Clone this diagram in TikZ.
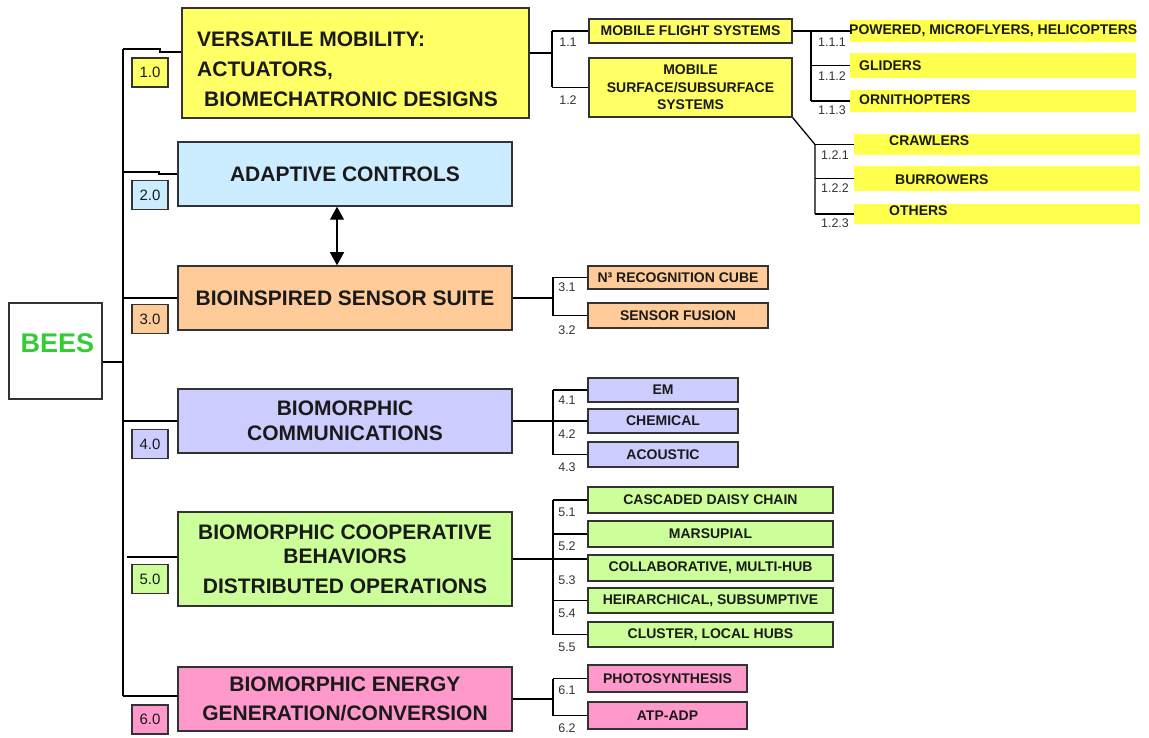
\documentclass[tikz,border=0pt]{standalone}
\usepackage{fontspec}
\setmainfont{Liberation Sans}
\usetikzlibrary{arrows.meta}
\definecolor{cyellow}{HTML}{FFFF66}
\definecolor{baryellow}{HTML}{FFFF4D}
\definecolor{cblue}{HTML}{CCECFF}
\definecolor{corange}{HTML}{FFCC99}
\definecolor{clav}{HTML}{CCCCFF}
\definecolor{cgreen}{HTML}{CCFF99}
\definecolor{cpink}{HTML}{FF99CC}
\definecolor{beesgreen}{HTML}{33CC33}
\definecolor{edge}{HTML}{333333}
\definecolor{ink}{HTML}{1A1A1A}
\definecolor{numink}{HTML}{333333}
\begin{document}
\begin{tikzpicture}[x=1pt,y=-1pt,
  mainbox/.style={draw=edge, line width=1.5pt, inner sep=0pt, align=center,
    text=ink, font=\bfseries\fontsize{21}{29}\selectfont},
  boxtext/.style={inner sep=0pt, text=ink, font=\bfseries\fontsize{21}{30}\selectfont},
  subbox/.style={draw=edge, line width=1.3pt, inner sep=0pt, align=center,
    text=ink, font=\bfseries\fontsize{14}{17.5}\selectfont},
  bar/.style={fill=baryellow, inner sep=0pt, minimum width=286},
  bartext/.style={anchor=west, inner sep=0pt, text=ink, font=\bfseries\fontsize{14}{17}\selectfont},
  num/.style={inner sep=0pt, text=numink, font=\fontsize{12.5}{14}\selectfont},
  tag/.style={draw=edge, line width=1.3pt, inner sep=0pt, minimum width=36,
    minimum height=29, text=ink, font=\fontsize{15}{18}\selectfont},
  wire/.style={draw=black, line width=1.3pt},
  dblarrow/.style={draw=black, line width=1.3pt,
    {Triangle[width=14pt,length=13pt]}-{Triangle[width=14pt,length=13pt]}}
]
\useasboundingbox (0,0) rectangle (1149,738);

% ---------- root ----------
\node[draw=edge, line width=1.3pt, minimum width=93, minimum height=96, inner sep=0pt] (bees) at (55.5,351) {};
\node[inner sep=0pt, text=beesgreen, font=\bfseries\fontsize{27}{30}\selectfont] (beest) at (57.5,343) {BEES};

% ---------- first level ----------
\node[mainbox, fill=cyellow, minimum width=347, minimum height=110] (m1) at (355.5,63) {};
\node[boxtext, anchor=west, align=left] (m1t) at (197,69.5)
  {VERSATILE MOBILITY:\\ACTUATORS,\\\hspace*{7pt}BIOMECHATRONIC DESIGNS};
\node[mainbox, fill=cblue, minimum width=334, minimum height=64] (m2) at (345,174) {ADAPTIVE CONTROLS};
\node[mainbox, fill=corange, minimum width=334, minimum height=64] (m3) at (345,298) {BIOINSPIRED SENSOR SUITE};
\node[mainbox, fill=clav, minimum width=334, minimum height=64] (m4) at (345,421) {BIOMORPHIC\\[-4pt]COMMUNICATIONS};
\node[mainbox, fill=cgreen, minimum width=334, minimum height=94] (m5) at (345,559)
  {BIOMORPHIC COOPERATIVE\\[-5pt]BEHAVIORS\\[1pt]DISTRIBUTED OPERATIONS};
\node[mainbox, fill=cpink, minimum width=334, minimum height=64] (m6) at (345,699) {BIOMORPHIC ENERGY\\GENERATION/CONVERSION};

% ---------- number tags ----------
\node[tag, fill=cyellow] (t1) at (150,72.5) {1.0};
\node[tag, fill=cblue]   (t2) at (150,195) {2.0};
\node[tag, fill=corange] (t3) at (150,319) {3.0};
\node[tag, fill=clav]    (t4) at (150,444) {4.0};
\node[tag, fill=cgreen]  (t5) at (150,579) {5.0};
\node[tag, fill=cpink]   (t6) at (150,719.5) {6.0};

% ---------- trunk ----------
\coordinate (tr1) at (123,49);
\coordinate (j1)  at (160,52);
\coordinate (tr2) at (123,172);
\coordinate (j2)  at (159,174);
\coordinate (tb)  at (123,362);
\coordinate (tr5) at (127,557);
\coordinate (tr6) at (123,696);
\draw[wire] (tr1) -- (tr6);
\draw[wire] (tr1) -- (tr1 -| j1) -- (j1) -- (j1 -| m1.west);
\draw[wire] (tr2) -- (tr2 -| j2) -- (j2) -- (j2 -| m2.west);
\draw[wire] (m3.west -| tr1) -- (m3.west);
\draw[wire] (tb -| bees.east) -- (tb);
\draw[wire] (m4.west -| tr1) -- (m4.west);
\draw[wire] (tr5) -- (tr5 -| m5.west);
\draw[wire] (tr6) -- (tr6 -| m6.west);

% controls <-> sensors
\draw[dblarrow] ([xshift=-8pt]m2.south) -- ([xshift=-8pt]m3.north);

% ---------- group 1 ----------
\node[subbox, fill=cyellow, minimum width=203, minimum height=24] (s11) at (690.5,31) {MOBILE FLIGHT SYSTEMS};
\node[subbox, fill=cyellow, minimum width=203, minimum height=59] (s12) at (690.5,87.5) {MOBILE\\SURFACE/SUBSURFACE\\SYSTEMS};
\coordinate (g1) at (552,53);
\draw[wire] (g1 -| m1.east) -- (g1);
\draw[wire] (g1 |- s11.west) -- (g1 |- s12.west);
\draw[wire] (g1 |- s11.west) -- (s11.west);
\draw[wire] (g1 |- s12.west) -- (s12.west);
\node[num] (n11) at (568,42) {1.1};
\node[num] (n12) at (568,100) {1.2};

% flight systems
\node[bar, minimum height=22] (b111) at (993,31) {};
\node[bar, minimum height=25] (b112) at (993,65.5) {};
\node[bar, minimum height=22] (b113) at (993,101) {};
\node[bartext] (x111) at (849,31) {POWERED, MICROFLYERS, HELICOPTERS};
\node[bartext] (x112) at (859,66) {GLIDERS};
\node[bartext] (x113) at (859,100) {ORNITHOPTERS};
\coordinate (g11) at (811,31);
\draw[wire] (s11.east) -- (s11.east -| b111.west);
\draw[wire] (g11) -- (g11 |- b113.west);
\draw[wire] (g11 |- b112.west) -- (b112.west);
\draw[wire] (g11 |- b113.west) -- (b113.west);
\node[num] (n111) at (832,42) {1.1.1};
\node[num] (n112) at (832,76) {1.1.2};
\node[num] (n113) at (832,110) {1.1.3};

% surface / subsurface systems
\node[bar, minimum height=21] (b121) at (997,144.5) {};
\node[bar, minimum height=25] (b122) at (997,178.5) {};
\node[bar, minimum height=20] (b123) at (997,214) {};
\node[bartext] (x121) at (889,141) {CRAWLERS};
\node[bartext] (x122) at (895,180) {BURROWERS};
\node[bartext] (x123) at (889,211) {OTHERS};
\coordinate (g12) at (815,144.5);
\draw[wire] (s12.south east) -- (g12) -- (g12 |- b123.west);
\draw[wire] (g12) -- (b121.west);
\draw[wire] (g12 |- b122.west) -- (b122.west);
\draw[wire] (g12 |- b123.west) -- (b123.west);
\node[num] (n121) at (835,155) {1.2.1};
\node[num] (n122) at (835,188) {1.2.2};
\node[num] (n123) at (835,223) {1.2.3};

% ---------- group 3 ----------
\node[subbox, fill=corange, minimum width=180, minimum height=23] (s31) at (678,277.5) {N³ RECOGNITION CUBE};
\node[subbox, fill=corange, minimum width=180, minimum height=25] (s32) at (678,315.5) {SENSOR FUSION};
\coordinate (g3) at (553,298);
\draw[wire] (m3.east) -- (g3);
\draw[wire] (g3 |- s31.west) -- (g3 |- s32.west);
\draw[wire] (g3 |- s31.west) -- (s31.west);
\draw[wire] (g3 |- s32.west) -- (s32.west);
\node[num] (n31) at (567,287) {3.1};
\node[num] (n32) at (567,330) {3.2};

% ---------- group 4 ----------
\node[subbox, fill=clav, minimum width=150, minimum height=24] (s41) at (663,390) {EM};
\node[subbox, fill=clav, minimum width=150, minimum height=24] (s42) at (663,421) {CHEMICAL};
\node[subbox, fill=clav, minimum width=150, minimum height=25] (s43) at (663,454.5) {ACOUSTIC};
\coordinate (g4) at (553,421);
\draw[wire] (m4.east) -- (s42.west);
\draw[wire] (g4 |- s41.west) -- (g4 |- s43.west);
\draw[wire] (g4 |- s41.west) -- (s41.west);
\draw[wire] (g4 |- s43.west) -- (s43.west);
\node[num] (n41) at (567,400) {4.1};
\node[num] (n42) at (567,434) {4.2};
\node[num] (n43) at (567,467) {4.3};

% ---------- group 5 ----------
\node[subbox, fill=cgreen, minimum width=245, minimum height=26] (s51) at (710.5,500) {CASCADED DAISY CHAIN};
\node[subbox, fill=cgreen, minimum width=245, minimum height=26] (s52) at (710.5,534) {MARSUPIAL};
\node[subbox, fill=cgreen, minimum width=245, minimum height=26] (s53) at (710.5,568) {COLLABORATIVE, MULTI-HUB};
\node[subbox, fill=cgreen, minimum width=245, minimum height=25] (s54) at (710.5,600.5) {HEIRARCHICAL, SUBSUMPTIVE};
\node[subbox, fill=cgreen, minimum width=245, minimum height=25] (s55) at (710.5,634.5) {CLUSTER, LOCAL HUBS};
\coordinate (g5) at (553,559);
\draw[wire] (m5.east) -- (m5.east -| s53.west);
\draw[wire] (g5 |- s51.west) -- (g5 |- s55.west);
\draw[wire] (g5 |- s51.west) -- (s51.west);
\draw[wire] (g5 |- s52.west) -- (s52.west);
\draw[wire] (g5 |- s54.west) -- (s54.west);
\draw[wire] (g5 |- s55.west) -- (s55.west);
\node[num] (n51) at (567,512) {5.1};
\node[num] (n52) at (567,546) {5.2};
\node[num] (n53) at (567,580) {5.3};
\node[num] (n54) at (567,613) {5.4};
\node[num] (n55) at (567,647) {5.5};

% ---------- group 6 ----------
\node[subbox, fill=cpink, minimum width=159, minimum height=27] (s61) at (667.5,678.5) {PHOTOSYNTHESIS};
\node[subbox, fill=cpink, minimum width=159, minimum height=27] (s62) at (667.5,715.5) {ATP-ADP};
\coordinate (g6) at (553,699);
\draw[wire] (m6.east) -- (g6);
\draw[wire] (g6 |- s61.west) -- (g6 |- s62.west);
\draw[wire] (g6 |- s61.west) -- (s61.west);
\draw[wire] (g6 |- s62.west) -- (s62.west);
\node[num] (n61) at (567,690) {6.1};
\node[num] (n62) at (567,728) {6.2};
\end{tikzpicture}
\end{document}
